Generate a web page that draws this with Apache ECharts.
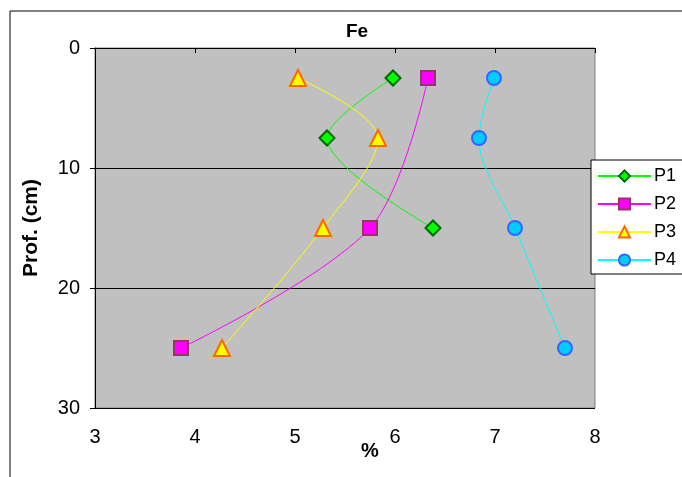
<!DOCTYPE html>
<html>
<head>
<meta charset="utf-8">
<script src="https://cdn.jsdelivr.net/npm/echarts@6/dist/echarts.min.js"></script>
<style>
    html, body { margin: 0; padding: 0; background: #fff; }
    #chart { width: 682px; height: 477px; }
</style>
</head>
<body>
<div id="chart"></div>
<script>
    // Fe content (%) vs depth (cm)
    var names = ['P1', 'P2', 'P3', 'P4'];
    var p1Depth = [2.5, 7.5, 15];
    var p1Fe = [5.98, 5.32, 6.38];
    var p2Depth = [2.5, 15, 25];
    var p2Fe = [6.33, 5.75, 3.86];
    var p3Depth = [2.5, 7.5, 15, 25];
    var p3Fe = [5.03, 5.83, 5.28, 4.27];
    var p4Depth = [2.5, 7.5, 15, 25];
    var p4Fe = [6.99, 6.84, 7.2, 7.7];
    var xTicks = [3, 4, 5, 6, 7, 8];
    var yTicks = [0, 10, 20, 30];

    function pairs(fe, depth) {
        return fe.map(function (v, i) { return [v, depth[i]]; });
    }

    var font = 'Arial, "Liberation Sans", sans-serif';

    function line(name, data, color, symbol, size, fill, border) {
        return {
            name: name,
            type: 'line',
            data: data,
            smooth: 0.33,
            symbol: symbol,
            symbolSize: size,
            showAllSymbol: true,
            lineStyle: { color: color, width: 1 },
            itemStyle: { color: fill, borderColor: border, borderWidth: 2 },
            emphasis: { disabled: true }
        };
    }

    var chart = echarts.init(document.getElementById('chart'));
    chart.setOption({
        animation: false,
        backgroundColor: '#ffffff',
        title: {
            text: 'Fe',
            left: 352, top: 17,
            textAlign: 'center',
            textStyle: { fontFamily: font, fontSize: 19, fontWeight: 'bold', color: '#000' }
        },
        graphic: [{
            type: 'rect',
            shape: { x: 10, y: 11, width: 720, height: 520 },
            style: { fill: 'none', stroke: '#000', lineWidth: 1 },
            z: -1
        }],
        grid: {
            left: 95, right: 87, top: 48, bottom: 69,
            show: true,
            backgroundColor: '#c0c0c0',
            borderColor: '#808080',
            borderWidth: 1
        },
        legend: {
            data: names,
            orient: 'vertical',
            left: 591, top: 160,
            itemWidth: 53, itemHeight: 14,
            itemGap: 10,
            padding: [7, 40, 5, 6],
            backgroundColor: '#fff',
            borderColor: '#000',
            borderWidth: 1,
            borderRadius: 0,
            textStyle: { fontFamily: font, fontSize: 18, color: '#000', padding: [0, 0, 0, -2] }
        },
        xAxis: {
            type: 'value',
            min: xTicks[0], max: xTicks[xTicks.length - 1], interval: 1,
            name: '%',
            nameLocation: 'middle',
            nameGap: 33,
            nameMoveOverlap: false,
            nameTextStyle: { fontFamily: font, fontSize: 20, fontWeight: 'bold', color: '#000', padding: [0, 0, 0, 50] },
            axisLine: { show: true, lineStyle: { color: '#000', width: 1 } },
            axisTick: { show: true, length: 5, lineStyle: { color: '#000' } },
            axisLabel: { fontFamily: font, fontSize: 20, color: '#000', margin: 19 },
            splitLine: { show: false }
        },
        yAxis: {
            type: 'value',
            inverse: true,
            min: yTicks[0], max: yTicks[yTicks.length - 1], interval: 10,
            name: 'Prof. (cm)',
            nameLocation: 'middle',
            nameGap: 53,
            nameTextStyle: { fontFamily: font, fontSize: 21, fontWeight: 'bold', color: '#000' },
            axisLine: { show: true, lineStyle: { color: '#000', width: 1 } },
            axisTick: { show: true, length: 5, lineStyle: { color: '#000' } },
            axisLabel: { fontFamily: font, fontSize: 20, color: '#000', margin: 15 },
            splitLine: { show: true, lineStyle: { color: '#000', width: 1 } }
        },
        series: [
            line('P1', pairs(p1Fe, p1Depth), '#00ff00', 'diamond', 15, '#00ff00', '#006600'),
            line('P2', pairs(p2Fe, p2Depth), '#ff00ff', 'rect', 14, '#ff00ff', '#993366'),
            line('P3', pairs(p3Fe, p3Depth), '#ffff00', 'triangle', 16, '#ffff00', '#ff6600'),
            line('P4', pairs(p4Fe, p4Depth), '#00ffff', 'circle', 14, '#00ccff', '#3366ff')
        ]
    });
</script>
</body>
</html>
